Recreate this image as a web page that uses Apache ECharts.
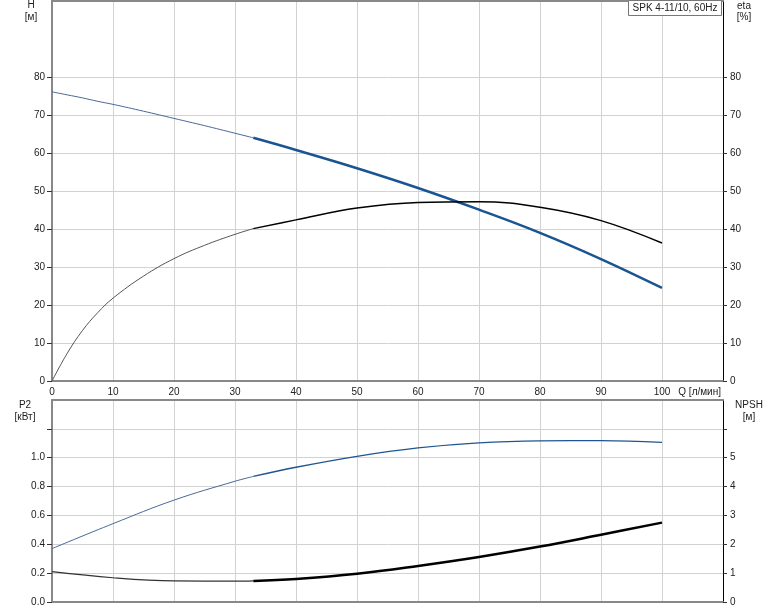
<!DOCTYPE html>
<html>
<head>
<meta charset="utf-8">
<script src="https://cdn.jsdelivr.net/npm/echarts@6/dist/echarts.min.js"></script>
<style>
html,body{margin:0;padding:0;background:#fff;}
#c{width:774px;height:611px;}
</style>
</head>
<body>
<div id="c"></div>
<script>
// ---- data ----
const title = 'SPK 4-11/10, 60Hz';
const qThinH = [0, 2.5, 5, 7.5, 10, 15, 20, 25, 30, 33];
const hThin = [76.1, 75.3, 74.5, 73.6, 72.8, 71.0, 69.1, 67.2, 65.2, 64.0];
const qThickH = [33, 40, 50, 60, 70, 80, 90, 100];
const hThick = [64.0, 60.8, 56.0, 50.8, 45.1, 39.0, 32.1, 24.5];

const qThinEta = [0, 2.5, 5, 7.5, 10, 15, 20, 25, 30, 33];
const etaThin = [0, 7.3, 13.3, 18.0, 21.8, 27.6, 32.2, 35.7, 38.6, 40.1];
const qThickEta = [33, 40, 50, 60, 70, 80, 90, 100];
const etaThick = [40.1, 42.4, 45.5, 47.0, 47.2, 45.7, 42.2, 36.3];

const qThinLow = [0, 10, 20, 30, 33];
const p2Thin = [0.37, 0.543, 0.706, 0.837, 0.87];
const npshThin = [1.05, 0.84, 0.73, 0.72, 0.73];
const qThickLow = [33, 40, 50, 60, 70, 80, 90, 100];
const p2Thick = [0.87, 0.934, 1.01, 1.068, 1.103, 1.117, 1.119, 1.107];
const npshThick = [0.73, 0.80, 0.98, 1.25, 1.56, 1.92, 2.33, 2.75];

const xTicks = [0, 10, 20, 30, 40, 50, 60, 70, 80, 90, 100];
const topTicks = [0, 10, 20, 30, 40, 50, 60, 70, 80];
const p2Labels = [0, 0.2, 0.4, 0.6, 0.8, 1.0];
const p2TickMarks = [0, 0.2, 0.4, 0.6, 0.8, 1.0, 1.2];
const npshLabels = [0, 1, 2, 3, 4, 5];
const npshTickMarks = [0, 1, 2, 3, 4, 5, 6];

// ---- helpers ----
const pairs = (xs, ys) => xs.map((x, i) => [x, ys[i]]);
const FONT = 'Liberation Sans';
const labelStyle = {fontFamily: FONT, fontSize: 10, color: '#222'};
const gridColor = '#d2d2d2';
const TXT = '10px "Liberation Sans"';

function xAx(gi, opts) {
  return Object.assign({
    type: 'value', gridIndex: gi, min: 0, max: 110, interval: 10,
    axisLine: {show: true, onZero: false, lineStyle: {color: '#888', width: 2}},
    axisTick: {show: false},
    axisLabel: {show: false},
    splitLine: {show: true, lineStyle: {color: gridColor, width: 1}}
  }, opts);
}
function yAx(gi, pos, max, interval, labels, ticks, fmt, lineColor, lineWidth, tickLen) {
  return {
    type: 'value', gridIndex: gi, position: pos, min: 0, max: max, interval: interval,
    axisLine: {show: true, onZero: false, lineStyle: {color: lineColor, width: lineWidth}},
    axisTick: {show: true, length: tickLen, customValues: ticks, lineStyle: {color: '#333'}},
    axisLabel: Object.assign({
      margin: 7,
      customValues: labels,
      formatter: v => fmt(v)
    }, labelStyle),
    splitLine: {show: pos === 'left', lineStyle: {color: gridColor, width: 1}}
  };
}

const option = {
  animation: false,
  backgroundColor: '#fff',
  grid: [
    {left: 52, top: 1, width: 671, height: 380},
    {left: 52, top: 400, width: 671, height: 202}
  ],
  xAxis: [
    xAx(0, {
      axisLabel: Object.assign({
        show: true, margin: 6, customValues: xTicks,
        formatter: v => String(v)
      }, labelStyle),
      name: 'Q [л/мин]', nameLocation: 'end', nameGap: -2,
      nameTextStyle: Object.assign({align: 'right', verticalAlign: 'top', padding: [6, 0, 0, 0]}, labelStyle)
    }),
    xAx(1, {}),
    xAx(0, {position: 'top', splitLine: {show: false}}),
    xAx(1, {position: 'top', splitLine: {show: false}})
  ],
  yAxis: [
    yAx(0, 'left', 100, 10, topTicks, topTicks, v => String(v), '#888', 2, 5),
    yAx(0, 'right', 100, 10, topTicks, topTicks, v => String(v), '#000', 1, 4),
    yAx(1, 'left', 1.4, 0.2, p2Labels, p2TickMarks, v => v.toFixed(1), '#888', 2, 5),
    yAx(1, 'right', 7, 1, npshLabels, npshTickMarks, v => String(v), '#000', 1, 4)
  ],
  series: [
    {type: 'line', xAxisIndex: 0, yAxisIndex: 0, data: pairs(qThinH, hThin), smooth: 0.4, showSymbol: false,
      lineStyle: {color: '#4a6898', width: 1}},
    {type: 'line', xAxisIndex: 0, yAxisIndex: 0, data: pairs(qThickH, hThick), smooth: 0.4, showSymbol: false,
      lineStyle: {color: '#1a5592', width: 2.5}},
    {type: 'line', xAxisIndex: 0, yAxisIndex: 1, data: pairs(qThinEta, etaThin), smooth: 0.4, showSymbol: false,
      lineStyle: {color: '#555', width: 1}},
    {type: 'line', xAxisIndex: 0, yAxisIndex: 1, data: pairs(qThickEta, etaThick), smooth: 0.4, showSymbol: false,
      lineStyle: {color: '#000', width: 1.5}},
    {type: 'line', xAxisIndex: 1, yAxisIndex: 2, data: pairs(qThinLow, p2Thin), smooth: 0.4, showSymbol: false,
      lineStyle: {color: '#4a6898', width: 1}},
    {type: 'line', xAxisIndex: 1, yAxisIndex: 2, data: pairs(qThickLow, p2Thick), smooth: 0.4, showSymbol: false,
      lineStyle: {color: '#1f5590', width: 1.3}},
    {type: 'line', xAxisIndex: 1, yAxisIndex: 3, data: pairs(qThinLow, npshThin), smooth: 0.4, showSymbol: false,
      lineStyle: {color: '#333', width: 1.2}},
    {type: 'line', xAxisIndex: 1, yAxisIndex: 3, data: pairs(qThickLow, npshThick), smooth: 0.4, showSymbol: false,
      lineStyle: {color: '#000', width: 2.5}}
  ],
  graphic: [
    {type: 'text', x: 31, y: 5, style: {text: 'H', textAlign: 'center', textVerticalAlign: 'middle', fill: '#222', font: TXT}},
    {type: 'text', x: 31, y: 17, style: {text: '[м]', textAlign: 'center', textVerticalAlign: 'middle', fill: '#222', font: TXT}},
    {type: 'text', x: 744, y: 6, style: {text: 'eta', textAlign: 'center', textVerticalAlign: 'middle', fill: '#222', font: TXT}},
    {type: 'text', x: 744, y: 17, style: {text: '[%]', textAlign: 'center', textVerticalAlign: 'middle', fill: '#222', font: TXT}},
    {type: 'text', x: 25, y: 405, style: {text: 'P2', textAlign: 'center', textVerticalAlign: 'middle', fill: '#222', font: TXT}},
    {type: 'text', x: 25, y: 417, style: {text: '[кВт]', textAlign: 'center', textVerticalAlign: 'middle', fill: '#222', font: TXT}},
    {type: 'text', x: 749, y: 405, style: {text: 'NPSH', textAlign: 'center', textVerticalAlign: 'middle', fill: '#222', font: TXT}},
    {type: 'text', x: 749, y: 417, style: {text: '[м]', textAlign: 'center', textVerticalAlign: 'middle', fill: '#222', font: TXT}},
    {type: 'rect', shape: {x: 628.5, y: 0.5, width: 93, height: 15}, style: {fill: '#fff', stroke: '#777', lineWidth: 1}, z: 10},
    {type: 'text', x: 675, y: 8, z: 11, style: {text: title, textAlign: 'center', textVerticalAlign: 'middle', fill: '#222', font: TXT}}
  ]
};

const chart = echarts.init(document.getElementById('c'), null, {renderer: 'canvas'});
chart.setOption(option);
</script>
</body>
</html>
